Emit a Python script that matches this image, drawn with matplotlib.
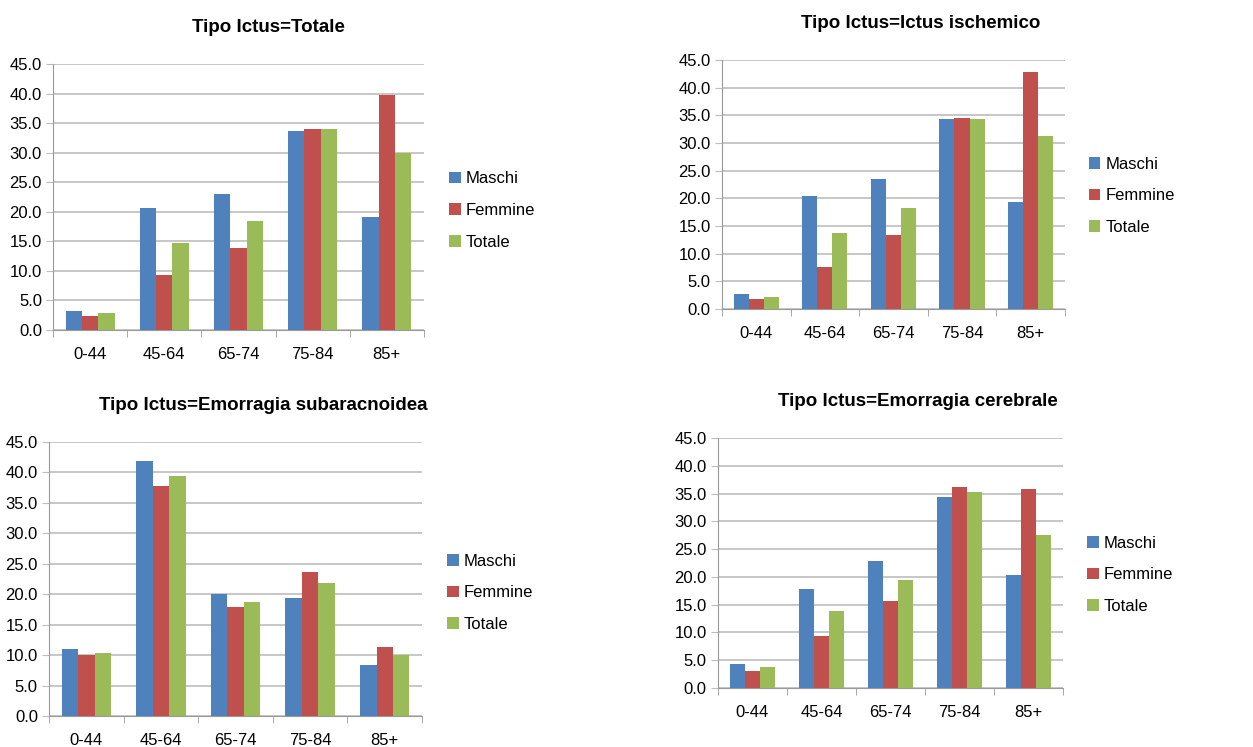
import numpy as np
import matplotlib
matplotlib.use("Agg")
import matplotlib.pyplot as plt

plt.rcParams['font.family'] = ['Liberation Sans', 'DejaVu Sans']

# age groups and series
categories = ['0-44', '45-64', '65-74', '75-84', '85+']
series = ['Maschi', 'Femmine', 'Totale']
colors = ['#4F81BD', '#C0504D', '#9BBB59']

# Tipo Ictus = Totale
totale_m = [3.3, 20.7, 23.1, 33.7, 19.1]
totale_f = [2.4, 9.3, 13.8, 34.1, 39.8]
totale_t = [2.8, 14.7, 18.4, 34.0, 30.0]

# Tipo Ictus = Ictus ischemico
ischemico_m = [2.8, 20.5, 23.5, 34.4, 19.3]
ischemico_f = [1.8, 7.6, 13.4, 34.5, 42.8]
ischemico_t = [2.2, 13.8, 18.2, 34.4, 31.3]

# Tipo Ictus = Emorragia subaracnoidea
subarac_m = [11.0, 41.8, 20.0, 19.4, 8.3]
subarac_f = [10.0, 37.7, 17.9, 23.6, 11.3]
subarac_t = [10.3, 39.4, 18.8, 21.9, 10.1]

# Tipo Ictus = Emorragia cerebrale
cerebrale_m = [4.3, 17.9, 22.9, 34.3, 20.3]
cerebrale_f = [3.0, 9.3, 15.6, 36.1, 35.8]
cerebrale_t = [3.8, 13.9, 19.5, 35.2, 27.6]

# title, data, axes rect, legend y, title x (axes coords)
panels = [
    ('Tipo Ictus=Totale', [totale_m, totale_f, totale_t],
     [0.0423, 0.5582, 0.296, 0.356], 0.45, 0.58),
    ('Tipo Ictus=Ictus ischemico', [ischemico_m, ischemico_f, ischemico_t],
     [0.5762, 0.5863, 0.2737, 0.3333], 0.454, 0.58),
    ('Tipo Ictus=Emorragia subaracnoidea', [subarac_m, subarac_f, subarac_t],
     [0.0391, 0.0415, 0.2977, 0.3668], 0.45, 0.575),
    ('Tipo Ictus=Emorragia cerebrale', [cerebrale_m, cerebrale_f, cerebrale_t],
     [0.573, 0.079, 0.2753, 0.3347], 0.452, 0.58),
]

fig = plt.figure(figsize=(12.53, 7.47), dpi=100)
grid_c = '#BEBEBE'
x = np.arange(len(categories))
w = 0.22

for title, data, rect, ly, tx in panels:
    ax = fig.add_axes(rect)
    for i, (vals, name) in enumerate(zip(data, series)):
        ax.bar(x + (i - 1) * w, vals, w, color=colors[i], label=name, zorder=3)
    ax.set_xlim(-0.5, len(categories) - 0.5)
    ax.set_ylim(0, 45)
    ax.set_yticks(np.arange(0, 46, 5))
    ax.set_yticklabels([f'{v:.1f}' for v in np.arange(0, 46, 5)])
    ax.yaxis.grid(True, color=grid_c, linewidth=1.2, zorder=0)
    ax.set_xticks(x)
    ax.set_xticklabels(categories)
    ax.set_xticks(np.arange(-0.5, len(categories)), minor=True)
    ax.tick_params(axis='x', which='major', length=0, pad=12, labelsize=12)
    ax.tick_params(axis='x', which='minor', length=5, color='#9A9A9A')
    ax.tick_params(axis='y', length=5, color=grid_c, pad=3, labelsize=12)
    for s in ['top', 'right']:
        ax.spines[s].set_visible(False)
    ax.spines['left'].set_color('#9A9A9A')
    ax.spines['bottom'].set_color('#9A9A9A')
    ax.set_title(title, fontsize=13.5, fontweight='bold', pad=23, x=tx)
    ax.legend(loc='center left', bbox_to_anchor=(1.05, ly), frameon=False,
              handlelength=0.7, handleheight=0.7, handletextpad=0.3,
              labelspacing=1.0, fontsize=12, borderaxespad=0)

fig.savefig('out.png', dpi=100)
